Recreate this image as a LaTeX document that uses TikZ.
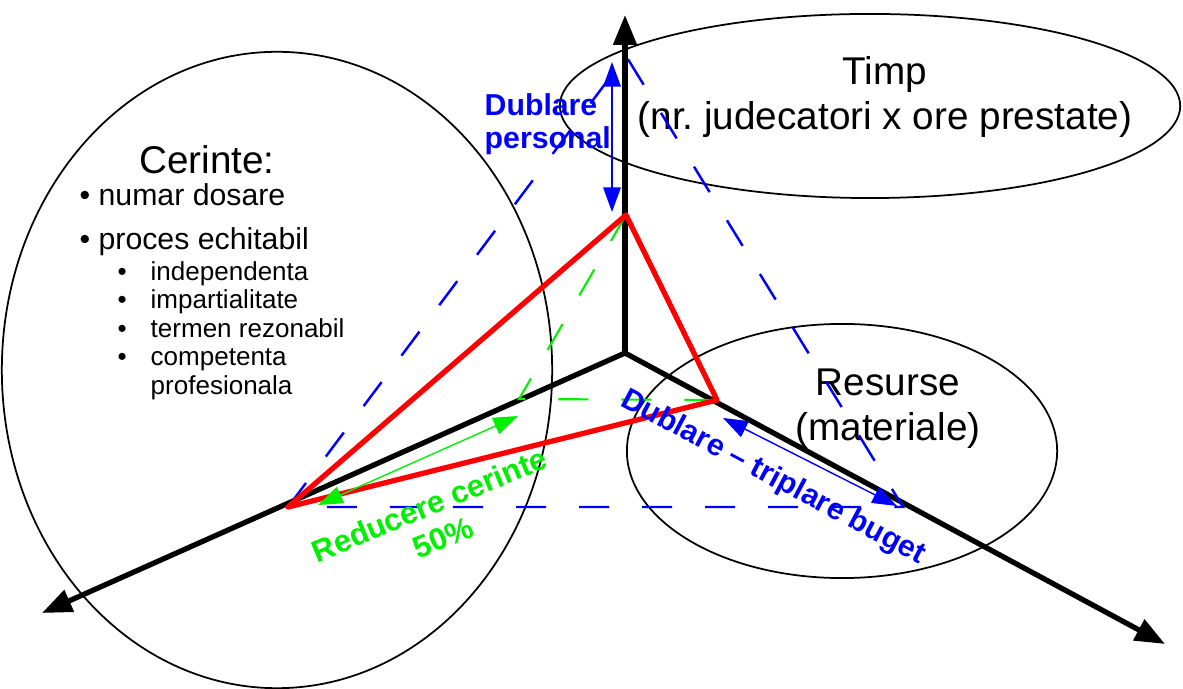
\documentclass[tikz,border=0pt]{standalone}
\usepackage{fontspec}
\setmainfont{Liberation Sans}
\usepackage{tikz}
\usetikzlibrary{arrows.meta, calc}
\definecolor{pureblue}{RGB}{0, 0, 255}
\definecolor{puregreen}{RGB}{0, 240, 0}
\definecolor{purered}{RGB}{255, 0, 0}
\newcommand{\subbul}{\makebox[0.33cm][l]{\textbullet}}
\frenchspacing

\begin{document}
\begin{tikzpicture}[x=0.01cm, y=-0.01cm,
    axis/.style={line width=1.5pt, -{Triangle[length=8.5pt, width=6.5pt]}},
    rim/.style={line width=0.5pt},
    redline/.style={line width=1.5pt, purered},
    bluedash/.style={line width=0.7pt, pureblue, dash pattern=on 0.3cm off 0.33cm},
    greendash/.style={line width=0.6pt, puregreen, dash pattern=on 0.3cm off 0.33cm},
    bluearrow/.style={line width=0.4pt, pureblue,
      {Triangle[length=7pt, width=5pt]}-{Triangle[length=7pt, width=5pt]}},
    greenarrow/.style={line width=0.4pt, puregreen,
      {Triangle[length=7pt, width=5pt]}-{Triangle[length=7pt, width=5pt]}},
    bigtxt/.style={font=\fontsize{11}{12.8}\selectfont, align=center, inner sep=0pt},
    itemtxt/.style={font=\fontsize{8.6}{10}\selectfont, anchor=base west, inner sep=0pt},
    subtxt/.style={font=\fontsize{7.4}{8.4}\selectfont, anchor=base west, inner sep=0pt},
    bluetxt/.style={font=\fontsize{8.6}{9.4}\selectfont\bfseries, pureblue, inner sep=0pt},
    greentxt/.style={font=\fontsize{8.8}{10}\selectfont\bfseries, puregreen, align=center, inner sep=0pt}]
  \useasboundingbox (0,0) rectangle (1183,689);

  %% REGIONS
  \draw[rim] (277,370) ellipse [x radius=2.75cm, y radius=3.18cm];
  \draw[rim] (870,106) ellipse [x radius=3.1cm, y radius=0.92cm];
  \draw[rim] (842,451) ellipse [x radius=2.15cm, y radius=1.27cm];

  %% LABELS
  \node[bigtxt] (timp) at (885,97) {Timp\\(nr. judecatori x ore prestate)};
  \node[bigtxt] (resurse) at (888,409) {Resurse\\(materiale)};
  \node[bigtxt] (cerinte) at (207,160) {Cerinte:};
  \node[itemtxt] (dosare) at (79,206) {\textbullet\ numar dosare};
  \node[itemtxt] (echit) at (79,250) {\textbullet\ proces echitabil};
  \node[subtxt] (indep) at (117,281) {\subbul independenta};
  \node[subtxt] (impart) at (117,309) {\subbul impartialitate};
  \node[subtxt] (termen) at (117,338) {\subbul termen rezonabil};
  \node[subtxt] (compet) at (117,366) {\subbul competenta};
  \node[subtxt] (profes) at (150,395) {profesionala};

  %% AXES
  \coordinate (O) at (625,353);
  \coordinate (ztip) at (625,15);
  \coordinate (xtip) at (42,613);
  \coordinate (ytip) at (1165,644);
  \draw[axis] (O) -- (ztip);
  \draw[axis] (O) -- (xtip);
  \draw[axis] (O) -- (ytip);

  %% TRIANGLES
  \coordinate (ct) at (288,507);
  \coordinate (tt) at (626,215);
  \coordinate (rt) at (717,400);
  \coordinate (cg) at (519,399);
  \coordinate (ta) at (626,56);
  \coordinate (ra) at (903,507);
  \draw[bluedash] (ct) -- (ta) -- (ra) -- cycle;
  \draw[greendash] (tt) -- (cg) -- (rt);
  \draw[redline, line join=round] (ct) -- (tt) -- (rt) -- cycle;

  %% CHANGES
  \coordinate (dpt) at (612,62);
  \coordinate (dpb) at (612,212);
  \draw[bluearrow] (dpt) -- (dpb);
  \node[bluetxt, align=left, anchor=west] (dubpers) at (484,124) {Dublare\\personal};

  \coordinate (dbt) at (723,418);
  \coordinate (dbb) at (897,506);
  \draw[bluearrow] (dbt) -- (dbb);
  \node[bluetxt, rotate=-28] (buget) at (773,478) {Dublare -- triplare buget};

  \coordinate (rc1) at (318,505);
  \coordinate (rc2) at (518,416);
  \draw[greenarrow] (rc1) -- (rc2);
  \node[greentxt, rotate=22.5] (reduc) at (436,521) {Reducere cerinte\\50\%};
\end{tikzpicture}
\end{document}
